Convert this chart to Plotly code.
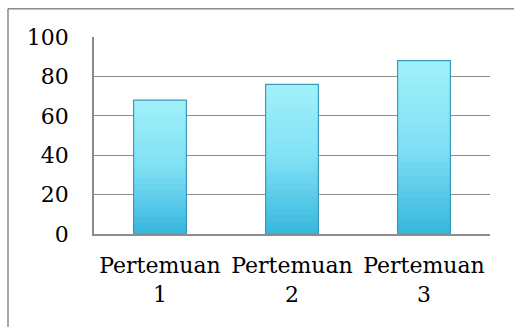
import plotly.graph_objects as go

categories = ["Pertemuan<br>1", "Pertemuan<br>2", "Pertemuan<br>3"]
values = [68, 76, 88]
y_ticks = [0, 20, 40, 60, 80, 100]

# gradient colours from top (light) to bottom (dark)
top_rgb = (160, 240, 250)
mid_rgb = (128, 224, 245)
bot_rgb = (58, 184, 222)

def lerp(a, b, t):
    return tuple(int(round(a[i] + (b[i] - a[i]) * t)) for i in range(3))

fig = go.Figure()
steps = 24
for k in range(steps):
    frac = 1 - k / steps  # fraction of bar height
    t = k / (steps - 1)
    if t < 0.5:
        c = lerp(top_rgb, mid_rgb, t / 0.5)
    else:
        c = lerp(mid_rgb, bot_rgb, (t - 0.5) / 0.5)
    fig.add_trace(go.Bar(
        x=categories, y=[v * frac for v in values], width=0.4,
        marker=dict(color="rgb(%d,%d,%d)" % c, line=dict(width=0)),
        showlegend=False, hoverinfo="skip"))
# outline
fig.add_trace(go.Bar(
    x=categories, y=values, width=0.4,
    marker=dict(color="rgba(0,0,0,0)", line=dict(width=1.2, color="#3a9cbc")),
    showlegend=False))

font_family = "DejaVu Serif"
fig.update_layout(
    width=514, height=327,
    margin=dict(l=94, r=24, t=37, b=93),
    paper_bgcolor="white", plot_bgcolor="white",
    barmode="overlay",
    font=dict(family=font_family, size=22, color="black"),
    xaxis=dict(showgrid=False, showline=True, linecolor="#8c8c8c", linewidth=1.5,
               ticks="", tickfont=dict(family=font_family, size=22), ticklabelstandoff=11),
    yaxis=dict(range=[0, 100], tickvals=y_ticks, showgrid=True, gridcolor="#8c8c8c",
               gridwidth=1.3, showline=True, linecolor="#8c8c8c", linewidth=1.5,
               zeroline=False, ticks="", tickfont=dict(family=font_family, size=22),
               ticklabelstandoff=19),
    shapes=[
        dict(type="line", xref="paper", yref="paper", x0=-0.2172, x1=1.2,
             y0=1.144, y1=1.144, line=dict(color="#8a8a8a", width=1.5)),
        dict(type="line", xref="paper", yref="paper", x0=-0.2172, x1=-0.2172,
             y0=-0.7, y1=1.144, line=dict(color="#8a8a8a", width=1.5)),
    ],
)

fig.write_html("out.html")
